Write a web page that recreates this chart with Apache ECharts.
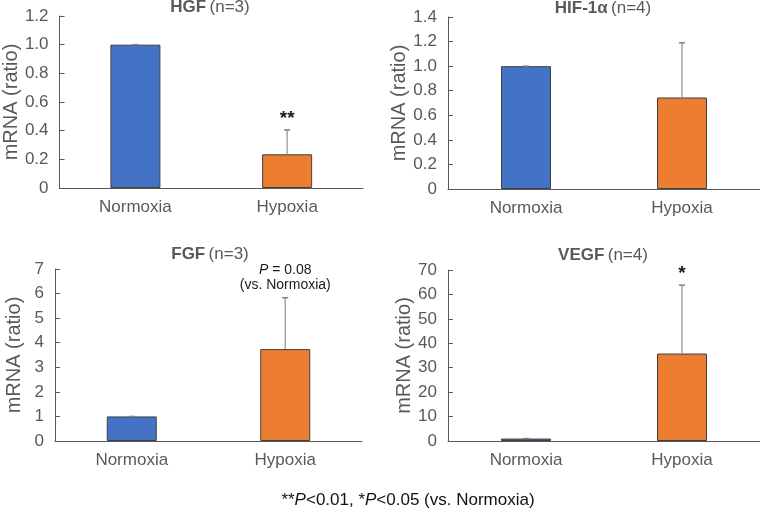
<!DOCTYPE html>
<html>
<head>
<meta charset="utf-8">
<script src="https://cdn.jsdelivr.net/npm/echarts@6/dist/echarts.min.js"></script>
<style>
  html, body { margin: 0; padding: 0; background: #fff; }
  #chart { width: 760px; height: 513px; }
</style>
</head>
<body>
<div id="chart"></div>
<script>
// 数据
const groups = ['Normoxia', 'Hypoxia'];
const panelNames = ['HGF', 'HIF-1α', 'FGF', 'VEGF'];
const panelN = ['(n=3)', '(n=4)', '(n=3)', '(n=4)'];
const hgfMean = [1.0, 0.235];
const hgfUpper = [1.0, 0.405];
const hifMean = [1.0, 0.745];
const hifUpper = [1.0, 1.19];
const fgfMean = [1.0, 3.74];
const fgfUpper = [1.0, 5.83];
const vegfMean = [1.0, 35.8];
const vegfUpper = [1.0, 63.8];
const yMax = [1.2, 1.4, 7, 70];
const yStep = [0.2, 0.2, 1, 10];
const marks = [['', '**'], ['', ''], ['', '{i|P} = 0.08\n(vs. Normoxia)'], ['', '*']];
const footnote = '**{i|P}<0.01, *{i|P}<0.05 (vs. Normoxia)';

const means = [hgfMean, hifMean, fgfMean, vegfMean];
const uppers = [hgfUpper, hifUpper, fgfUpper, vegfUpper];

const barColors = ['#4472C4', '#ED7D31'];
const axisColor = '#595959';
const font = 'Liberation Sans, Arial, sans-serif';

// 四个面板的位置
const grids = [
  { left: 55, top: 16, width: 308, height: 172 },
  { left: 448, top: 17, width: 312, height: 172 },
  { left: 55, top: 269, width: 307, height: 172 },
  { left: 448, top: 270, width: 312, height: 171 }
];

const chart = echarts.init(document.getElementById('chart'), null, { renderer: 'canvas' });

const xAxes = grids.map((g, i) => ({
  type: 'category',
  gridIndex: i,
  data: groups,
  axisLine: { lineStyle: { color: axisColor, width: 1 } },
  axisTick: { show: false },
  axisLabel: { color: axisColor, fontSize: 17, fontFamily: font, margin: 11 }
}));

const yAxes = grids.map((g, i) => ({
  type: 'value',
  gridIndex: i,
  min: 0,
  max: yMax[i],
  interval: yStep[i],
  name: 'mRNA (ratio)',
  nameLocation: 'middle',
  nameGap: 31,
  nameTextStyle: { color: axisColor, fontSize: 20, fontFamily: font },
  splitLine: { show: false },
  axisLine: { show: true, lineStyle: { color: axisColor, width: 1 } },
  axisTick: { show: true, inside: true, length: 5, lineStyle: { color: axisColor } },
  axisLabel: {
    color: axisColor,
    fontSize: 17,
    fontFamily: font,
    margin: 11,
    formatter: v => (v === 0 ? '0' : (yStep[i] < 1 ? v.toFixed(1) : String(v)))
  }
}));

const series = [];
means.forEach((m, i) => {
  // 柱子
  series.push({
    type: 'bar',
    xAxisIndex: i,
    yAxisIndex: i,
    barWidth: 50,
    data: m.map((v, k) => ({
      value: v,
      itemStyle: { color: barColors[k], borderColor: '#404040', borderWidth: 1 }
    }))
  });
  // 误差线 + 显著性标记
  series.push({
    type: 'custom',
    xAxisIndex: i,
    yAxisIndex: i,
    z: 5,
    data: m.map((v, k) => [k, v, uppers[i][k]]),
    renderItem: (params, api) => {
      const k = api.value(0);
      const base = api.coord([k, api.value(1)]);
      const top = api.coord([k, api.value(2)]);
      const children = [
        {
          type: 'line',
          shape: { x1: base[0], y1: base[1], x2: top[0], y2: top[1] },
          style: { stroke: '#a6a6a6', lineWidth: 1.5 }
        },
        {
          type: 'line',
          shape: { x1: top[0] - 3, y1: top[1], x2: top[0] + 3, y2: top[1] },
          style: { stroke: '#7f7f7f', lineWidth: 1.5 }
        }
      ];
      const txt = marks[i][k];
      if (txt) {
        const isStar = txt.indexOf('*') === 0;
        children.push({
          type: 'text',
          style: {
            x: top[0],
            y: top[1] - (isStar ? 2 : 5),
            text: txt,
            align: 'center',
            verticalAlign: 'bottom',
            fill: '#1a1a1a',
            fontSize: isStar ? 19 : 14,
            fontWeight: isStar ? 'bold' : 'normal',
            fontFamily: font,
            lineHeight: isStar ? 19 : 15,
            rich: { i: { fontStyle: 'italic', fontSize: 14, fontFamily: font, fill: '#1a1a1a' } }
          }
        });
      }
      return { type: 'group', children };
    }
  });
});

// 标题与脚注
const titleCenters = [[210, 7], [603, 8], [210, 254], [603, 255]];
const graphics = panelNames.map((name, i) => ({
  type: 'text',
  x: titleCenters[i][0],
  y: titleCenters[i][1],
  style: {
    text: '{b|' + name + '} {n|' + panelN[i] + '}',
    align: 'center',
    verticalAlign: 'middle',
    rich: {
      b: { fontWeight: 'bold', fontSize: 17, fontFamily: font, fill: axisColor },
      n: { fontSize: 17, fontFamily: font, fill: axisColor }
    }
  }
}));
graphics.push({
  type: 'text',
  x: 408,
  y: 500,
  style: {
    text: footnote,
    align: 'center',
    verticalAlign: 'middle',
    fill: '#111',
    fontSize: 17,
    fontFamily: font,
    rich: { i: { fontStyle: 'italic', fontSize: 17, fontFamily: font, fill: '#111' } }
  }
});

chart.setOption({
  animation: false,
  backgroundColor: '#fff',
  grid: grids,
  xAxis: xAxes,
  yAxis: yAxes,
  series: series,
  graphic: graphics
});
</script>
</body>
</html>
